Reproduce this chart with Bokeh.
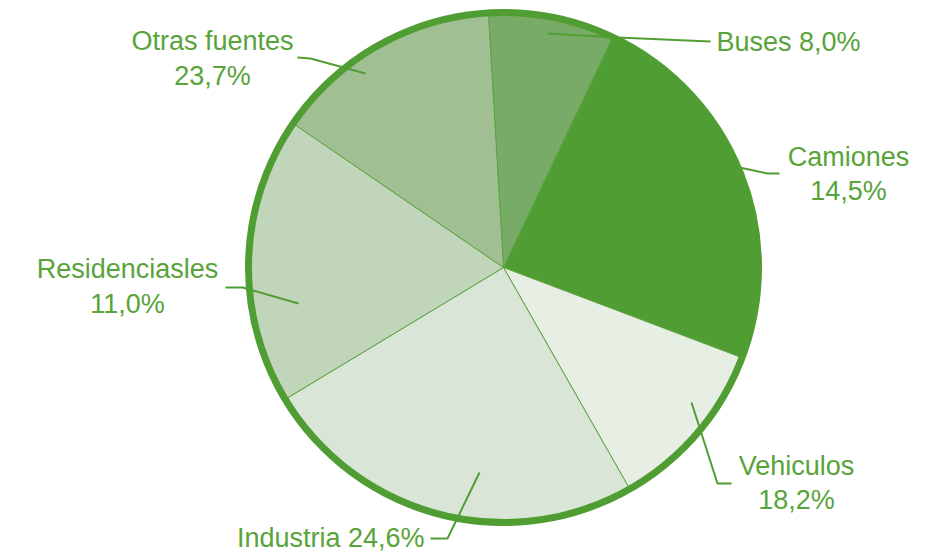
import math
from bokeh.plotting import figure
from bokeh.models import Range1d, ColumnDataSource
from bokeh.core.properties import value
from bokeh.embed import file_html
from bokeh.resources import INLINE

# ---- data ----
categories = ["Buses", "Camiones", "Vehiculos", "Industria", "Residenciasles", "Otras fuentes"]
slice_values = [8.0, 23.7, 11.0, 24.6, 18.2, 14.5]          # slice sizes as drawn
label_values = [8.0, 14.5, 18.2, 24.6, 11.0, 23.7]          # percentages as printed
colors = ["#77AB67", "#509E33", "#E7EFE4", "#D9E5D6", "#C0D5BA", "#A0C094"]

# ---- layout (screen pixel coords of the 940x554 picture) ----
W, H = 940, 554
def X(v): return v
def Y(v): return H - v

CX, CY, R = 503, 267, 255
START_DEG = -3.4  # clockwise from top

label_layout = {
    "Buses":          dict(x=716, ys=[41], align="left", two=False),
    "Camiones":       dict(x=848, ys=[156, 190], align="center", two=True),
    "Vehiculos":      dict(x=796, ys=[465, 499], align="center", two=True),
    "Industria":      dict(x=424, ys=[537], align="right", two=False),
    "Residenciasles": dict(x=127, ys=[268, 303], align="center", two=True),
    "Otras fuentes":  dict(x=212, ys=[40, 75], align="center", two=True),
}
leaders = {
    "Buses":          [(547, 33), (617, 37), (710, 41)],
    "Camiones":       [(693, 157), (767, 173), (779, 173)],
    "Vehiculos":      [(691, 402), (717, 483), (731, 483)],
    "Industria":      [(479, 472), (447, 538), (430, 538)],
    "Residenciasles": [(298, 303), (242, 287), (225, 287)],
    "Otras fuentes":  [(365, 73), (310, 58), (297, 57)],
}

GREEN = "#509E33"
TEXT_GREEN = "#58A33A"
FONT = "Liberation Sans"
FS = "27px"

p = figure(width=W, height=H, output_backend="svg", toolbar_location=None,
           x_range=Range1d(0, W), y_range=Range1d(0, H), min_border=0)
p.axis.visible = False
p.grid.visible = False
p.outline_line_color = None
p.background_fill_color = "white"

total = sum(slice_values)
starts, ends = [], []
cum = 0.0
for v in slice_values:
    a0 = START_DEG + cum / total * 360
    a1 = START_DEG + (cum + v) / total * 360
    starts.append(math.radians(90 - a1))
    ends.append(math.radians(90 - a0))
    cum += v

src = ColumnDataSource(dict(x=[X(CX)] * len(categories), y=[Y(CY)] * len(categories),
                            start=starts, end=ends, color=colors))
p.wedge(x="x", y="y", radius=R, start_angle="start", end_angle="end",
        direction="anticlock", fill_color="color", line_color="#5BA33E",
        line_width=1, source=src)
p.circle(x=[X(CX)], y=[Y(CY)], radius=R, fill_color=None, line_color=GREEN, line_width=7)

for cat, lv in zip(categories, label_values):
    pts = leaders[cat]
    p.line([X(a) for a, b in pts], [Y(b) for a, b in pts], line_color=GREEN, line_width=2)
    pct = f"{lv:.1f}".replace(".", ",") + "%"
    lay = label_layout[cat]
    lines = [cat, pct] if lay["two"] else [f"{cat} {pct}"]
    for txt, yy in zip(lines, lay["ys"]):
        p.text(x=[X(lay["x"])], y=[Y(yy)], text=[txt], text_align=lay["align"],
               text_baseline="middle", text_color=TEXT_GREEN,
               text_font=value(FONT), text_font_size=FS)

open("out.html", "w").write(file_html(p, INLINE))
